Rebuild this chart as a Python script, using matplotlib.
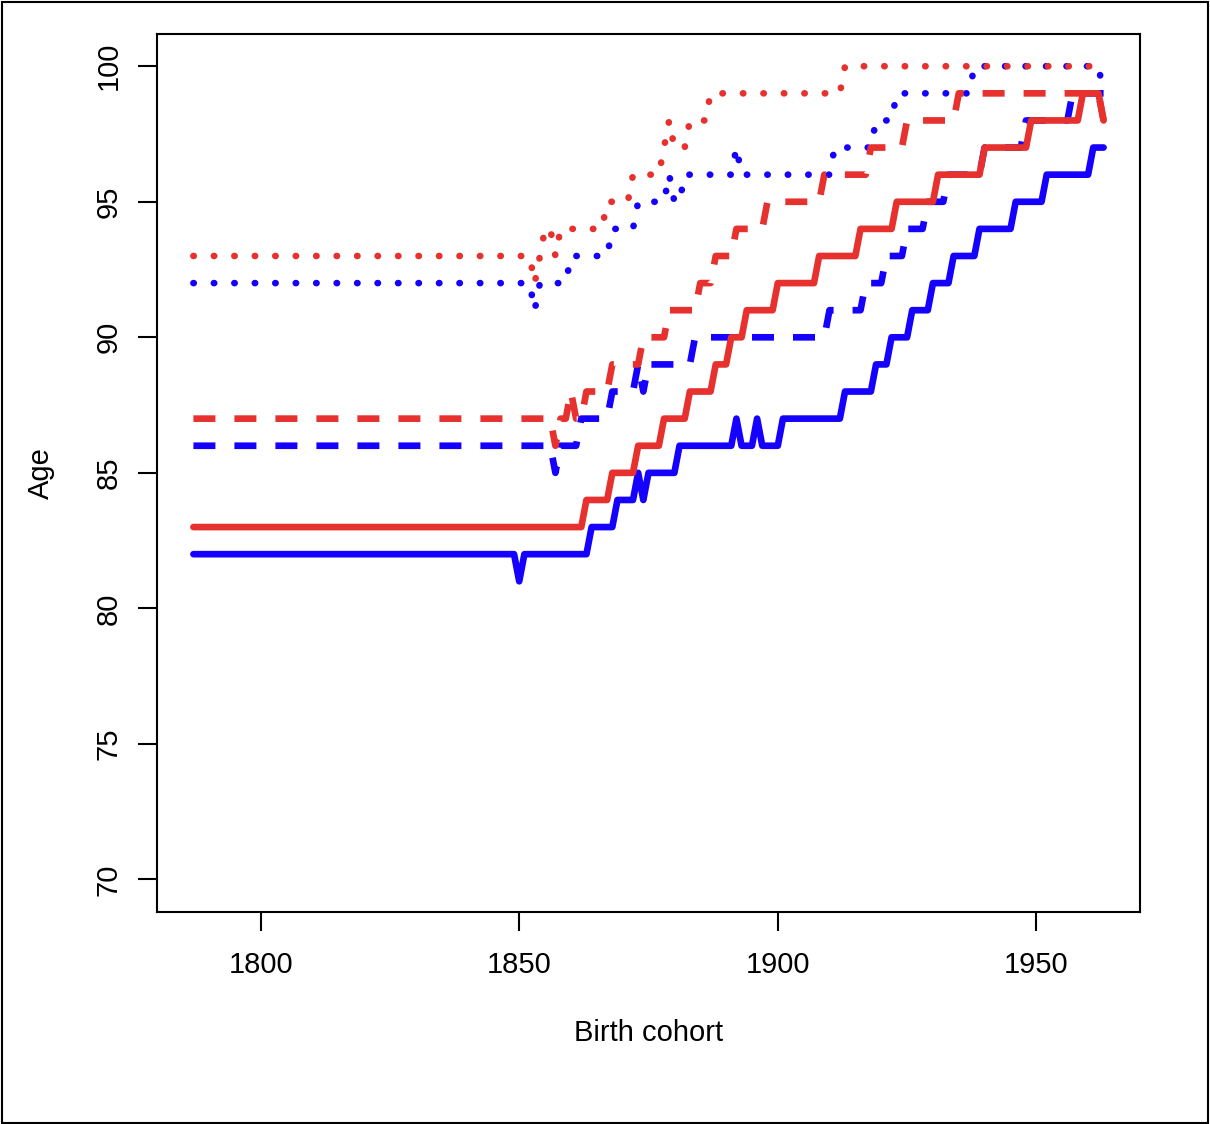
import matplotlib
matplotlib.use("Agg")
import matplotlib.pyplot as plt
from matplotlib.patches import Rectangle

plt.rcParams['font.family'] = ['Liberation Sans', 'DejaVu Sans']

# birth cohorts 1787..1963, one value per year
years = list(range(1787, 1964))

# ages (runs of equal values, oldest cohort first)
solid_red = ([83]*76 + [84]*5 + [85]*5 + [86]*5 + [87]*5 + [88]*5 + [89]*3 + [90]*3
             + [91]*6 + [92]*8 + [93]*8 + [94]*7 + [95]*8 + [96]*9 + [97]*9
             + [98]*10 + [99]*4 + [98]*1)
solid_blue = ([82]*63 + [81]*1 + [82]*13 + [83]*5 + [84]*4 + [85]*1 + [84]*1 + [85]*6
              + [86]*11 + [87]*1 + [86]*3 + [87]*1 + [86]*4 + [87]*12 + [88]*6
              + [89]*3 + [90]*4 + [91]*4 + [92]*4 + [93]*5 + [94]*7 + [95]*6
              + [96]*9 + [97]*3)
dashed_red = ([87]*70 + [86]*1 + [87]*2 + [88]*1 + [87]*2 + [88]*5 + [89]*6 + [90]*5
              + [91]*6 + [92]*3 + [93]*4 + [94]*6 + [95]*11 + [96]*9 + [97]*7
              + [98]*10 + [99]*28 + [98]*1)
dashed_blue = ([86]*70 + [85]*1 + [86]*4 + [87]*6 + [88]*5 + [89]*1 + [88]*1 + [89]*9
               + [90]*26 + [91]*7 + [92]*4 + [93]*4 + [94]*4 + [95]*4 + [96]*7
               + [97]*8 + [98]*9 + [99]*7)
dotted_red = ([93]*66 + [92]*1 + [93]*1 + [94]*2 + [93]*1 + [94]*9 + [95]*5 + [96]*6
              + [97]*1 + [98]*1 + [97]*3 + [98]*4 + [99]*26 + [100]*51)
dotted_blue = ([92]*66 + [91]*1 + [92]*6 + [93]*8 + [94]*5 + [95]*6 + [96]*1 + [95]*2
               + [96]*10 + [97]*1 + [96]*18 + [97]*8 + [98]*4 + [99]*15 + [100]*25
               + [99]*1)

xticks = [1800, 1850, 1900, 1950]
yticks = [70, 75, 80, 85, 90, 95, 100]

RED = '#E6312E'
BLUE = '#1500FF'
LW = 4.8
FS = 21

fig = plt.figure(figsize=(12.1, 11.24), dpi=100)
ax = fig.add_axes([157/1210, 212/1124, 983/1210, 878.3/1124])

ax.plot(years, solid_blue, color=BLUE, lw=LW, solid_joinstyle='round', solid_capstyle='round')
ax.plot(years, dashed_blue, color=BLUE, lw=LW, dashes=(3.3, 2.85), dash_capstyle='butt')
ax.plot(years, dotted_blue, color=BLUE, lw=LW, dashes=(0.05, 3.02), dash_capstyle='round')
ax.plot(years, solid_red, color=RED, lw=LW, solid_joinstyle='round', solid_capstyle='round')
ax.plot(years, dashed_red, color=RED, lw=LW, dashes=(3.3, 2.85), dash_capstyle='butt')
ax.plot(years, dotted_red, color=RED, lw=LW, dashes=(0.05, 3.02), dash_capstyle='round')

ax.set_xlim(1779.96, 1970.04)
ax.set_ylim(68.8, 101.2)
ax.set_xticks(xticks)
ax.set_yticks(yticks)
for sp in ax.spines.values():
    sp.set_linewidth(1.5)
ax.tick_params(direction='out', length=13.5, width=1.5, labelsize=FS)
ax.tick_params(axis='x', pad=14.5)
ax.tick_params(axis='y', pad=11, labelrotation=90)
for lbl in ax.get_yticklabels():
    lbl.set_va('center')

ax.set_xlabel('Birth cohort', fontsize=FS)
ax.xaxis.label.set_va('center')
ax.xaxis.set_label_coords(0.5, -0.1375)
ax.set_ylabel('Age', fontsize=FS, va='center')
ax.yaxis.set_label_coords(-0.1185, 0.5)

# thin frame round the whole picture
fig.patches.append(Rectangle((2/1210, 1/1124), 1206/1210, 1121/1124,
                             transform=fig.transFigure, fill=False,
                             edgecolor='black', lw=1.5))

fig.savefig('out.png', dpi=100)
